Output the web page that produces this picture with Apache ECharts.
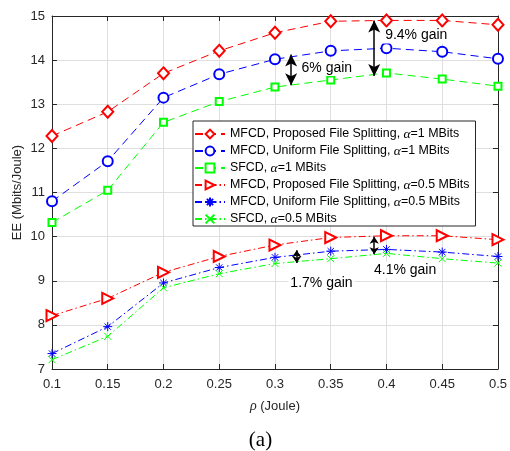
<!DOCTYPE html>
<html><head><meta charset="utf-8">
<script src="https://cdn.jsdelivr.net/npm/echarts@6/dist/echarts.min.js"></script>
<style>html,body{margin:0;padding:0;background:#fff;}#c{width:510px;height:451px;}</style>
</head><body><div id="c"></div>
<script>
const rho = [0.1, 0.15, 0.2, 0.25, 0.3, 0.35, 0.4, 0.45, 0.5];
const propA1  = [12.28, 12.83, 13.70, 14.21, 14.62, 14.88, 14.90, 14.90, 14.80];
const uniA1   = [10.80, 11.71, 13.15, 13.68, 14.02, 14.21, 14.27, 14.19, 14.03];
const sfcdA1  = [10.32, 11.05, 12.59, 13.06, 13.39, 13.55, 13.71, 13.57, 13.41];
const propA05 = [8.21, 8.60, 9.19, 9.55, 9.81, 9.98, 10.02, 10.02, 9.93];
const uniA05  = [7.35, 7.96, 8.95, 9.30, 9.53, 9.67, 9.71, 9.65, 9.55];
const sfcdA05 = [7.21, 7.74, 8.84, 9.16, 9.39, 9.50, 9.62, 9.50, 9.40];
const seriesNames = [
  'MFCD, Proposed File Splitting, α=1 MBits',
  'MFCD, Uniform File Splitting, α=1 MBits',
  'SFCD, α=1 MBits',
  'MFCD, Proposed File Splitting, α=0.5 MBits',
  'MFCD, Uniform File Splitting, α=0.5 MBits',
  'SFCD, α=0.5 MBits'
];
// annotation arrows: [x, yTop, yBottom]
const arrows = [[0.389, 14.90, 13.64], [0.3145, 14.13, 13.43], [0.389, 10.00, 9.60], [0.3195, 9.69, 9.40]];
// annotation texts: [text, xLeft, yCenter]
const notes = [['9.4% gain', 0.397, 14.56], ['6% gain', 0.322, 13.82], ['4.1% gain', 0.387, 9.25], ['1.7% gain', 0.312, 8.95]];

const SANS = '"Liberation Sans", Arial, Helvetica, sans-serif';
const SERIF = '"Liberation Serif", "DejaVu Serif", serif';
const AX = '#262626';
const pair = arr => arr.map((v, i) => [rho[i], v]);
const dashA = [8, 5];
const dashB = [7, 3, 1.5, 3];
const star = 'path://M0,-10L0,10M-10,0L10,0M-7.07,-7.07L7.07,7.07M-7.07,7.07L7.07,-7.07';
const cross = 'path://M-10,-10L10,10M-10,10L10,-10';

function mk(name, data, color, dash, symbol, size, rot) {
  return {
    name, type: 'line', data: pair(data), symbol, symbolSize: size, symbolRotate: rot || 0,
    symbolKeepAspect: true, showAllSymbol: true,
    lineStyle: { color, width: 1, type: dash },
    itemStyle: { color, borderColor: color, borderWidth: 1 },
    animation: false, z: 3
  };
}

const chart = echarts.init(document.getElementById('c'), null, { renderer: 'canvas' });
const series = [
  mk(seriesNames[0], propA1, '#ff0000', dashA, 'emptyDiamond', [11, 12]),
  mk(seriesNames[1], uniA1, '#0000ff', dashA, 'emptyCircle', 10),
  mk(seriesNames[2], sfcdA1, '#00ff00', dashA, 'emptyRect', 7),
  mk(seriesNames[3], propA05, '#ff0000', dashB, 'emptyTriangle', 11, -90),
  mk(seriesNames[4], uniA05, '#0000ff', dashB, star, 9),
  mk(seriesNames[5], sfcdA05, '#00ff00', dashB, cross, 7)
];
series.push({
  type: 'line', data: [], silent: true, animation: false,
  markLine: {
    silent: true, animation: false,
    label: { show: false },
    lineStyle: { color: '#000', width: 1.5, type: 'solid' },
    data: arrows.map((a, i) => {
      const s = i < 2 ? [9, 12] : [7, 7];
      return [
        { coord: [a[0], a[1]], symbol: 'arrow', symbolSize: s },
        { coord: [a[0], a[2]], symbol: 'arrow', symbolSize: s }
      ];
    })
  }
});

const axisCommon = {
  axisLine: { show: true, onZero: false, lineStyle: { color: AX, width: 1 } },
  axisTick: { show: true, inside: true, length: 5, lineStyle: { color: AX } }
};

chart.setOption({
  backgroundColor: '#fff',
  animation: false,
  grid: { left: 52, right: 12, top: 16, bottom: 82, containLabel: false },
  xAxis: [
    Object.assign({
      type: 'value', min: 0.1, max: 0.5, interval: 0.05, position: 'bottom',
      axisLabel: { color: AX, fontFamily: SANS, fontSize: 13, margin: 9,
        formatter: v => String(parseFloat(v.toFixed(2))) },
      splitLine: { show: true, lineStyle: { color: '#dfdfdf', width: 1 } },
      name: '{r|ρ} (Joule)', nameLocation: 'middle', nameGap: 30, nameMoveOverlap: false,
      nameTextStyle: { color: AX, fontFamily: SANS, fontSize: 13,
        rich: { r: { fontFamily: SERIF, fontStyle: 'italic', fontSize: 14, color: AX } } }
    }, axisCommon),
    Object.assign({
      type: 'value', min: 0.1, max: 0.5, interval: 0.05, position: 'top',
      axisLabel: { show: false }, splitLine: { show: false }
    }, axisCommon)
  ],
  yAxis: [
    Object.assign({
      type: 'value', min: 7, max: 15, interval: 1, position: 'left',
      axisLabel: { color: AX, fontFamily: SANS, fontSize: 13, margin: 7 },
      splitLine: { show: true, lineStyle: { color: '#dfdfdf', width: 1 } },
      name: 'EE (Mbits/Joule)', nameLocation: 'middle', nameGap: 28, nameMoveOverlap: false,
      nameTextStyle: { color: AX, fontFamily: SANS, fontSize: 13 }
    }, axisCommon),
    Object.assign({
      type: 'value', min: 7, max: 15, interval: 1, position: 'right',
      axisLabel: { show: false }, splitLine: { show: false }
    }, axisCommon)
  ],
  legend: {
    orient: 'vertical', left: 193, top: 121,
    padding: [6, 6, 0, 1], itemGap: 3, itemWidth: 30, itemHeight: 11,
    backgroundColor: '#fff', borderColor: AX, borderWidth: 1, borderRadius: 0,
    data: seriesNames,
    formatter: n => n.replace('α', '{a|α}'),
    textStyle: { color: '#000', fontFamily: SANS, fontSize: 12.4, lineHeight: 11,
      rich: { a: { fontFamily: SERIF, fontStyle: 'italic', fontSize: 13.5, lineHeight: 11, color: '#000' } } },
    selectedMode: false, z: 10
  },
  series
});

const gfx = notes.map(n => {
  const p = chart.convertToPixel({ gridIndex: 0 }, [n[1], n[2]]);
  return {
    type: 'text', x: p[0], y: p[1], z: 50,
    style: { text: n[0], fill: '#000', font: '14px ' + SANS, textVerticalAlign: 'middle',
      verticalAlign: 'middle', backgroundColor: '#fff', padding: [1, 2] }
  };
});
const xl = chart.convertToPixel({ gridIndex: 0 }, [0.1, 7])[0];
const xr = chart.convertToPixel({ gridIndex: 0 }, [0.5, 7])[0];
gfx.push({
  type: 'text', x: (xl + xr) / 2 - 14.5, y: 440,
  style: { text: '(a)', fill: '#000', font: '21px ' + SERIF, align: 'center', verticalAlign: 'middle', textAlign: 'center' }
});
chart.setOption({ graphic: gfx });
</script>
</body></html>
